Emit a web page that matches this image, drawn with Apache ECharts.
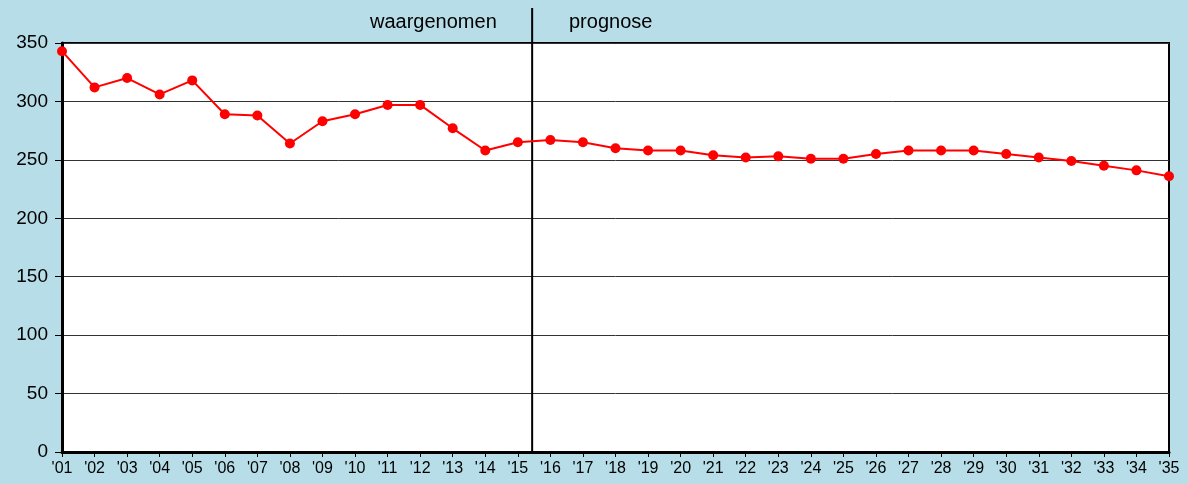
<!DOCTYPE html>
<html>
<head>
<meta charset="utf-8">
<script src="https://cdn.jsdelivr.net/npm/echarts@6/dist/echarts.min.js"></script>
<style>
    html, body { margin: 0; padding: 0; background: #b7dde8; }
    #chart { width: 1188px; height: 484px; }
</style>
</head>
<body>
<div id="chart"></div>
<script>
// jaren '01 t/m '35
const years = ["'01", "'02", "'03", "'04", "'05", "'06", "'07", "'08", "'09", "'10",
               "'11", "'12", "'13", "'14", "'15", "'16", "'17", "'18", "'19", "'20",
               "'21", "'22", "'23", "'24", "'25", "'26", "'27", "'28", "'29", "'30",
               "'31", "'32", "'33", "'34", "'35"];
// waargenomen ('01-'15) en prognose ('16-'35)
const values = [343, 312, 320, 306, 318, 289, 288, 264, 283, 289,
                297, 297, 277, 258, 265, 267, 265, 260, 258, 258,
                254, 252, 253, 251, 251, 255, 258, 258, 258, 255,
                252, 249, 245, 241, 236];
const yTicks = [0, 50, 100, 150, 200, 250, 300, 350];
// scheidingslijn tussen '15 en '16, loopt door tot boven de grafiek
const splitLine = [[14.44, 0], [14.44, 380]];
const periodLabels = ['waargenomen', 'prognose'];

const chart = echarts.init(document.getElementById('chart'));
const font = 'Liberation Sans, Arial, sans-serif';

chart.setOption({
    backgroundColor: '#b7dde8',
    animation: false,
    textStyle: { fontFamily: font },
    grid: {
        left: 62, right: 19, top: 43, bottom: 32,
        show: true,
        backgroundColor: '#ffffff',
        borderColor: '#000000',
        borderWidth: 2
    },
    graphic: [
        { type: 'text', x: 370, y: 22, style: { text: periodLabels[0], font: '20px ' + font, fill: '#000', verticalAlign: 'middle' } },
        { type: 'text', x: 569, y: 22, style: { text: periodLabels[1], font: '20px ' + font, fill: '#000', verticalAlign: 'middle' } }
    ],
    xAxis: [{
        type: 'category',
        data: years,
        boundaryGap: false,
        axisLine: { lineStyle: { color: '#000', width: 3 } },
        axisTick: { alignWithLabel: true, length: 5, lineStyle: { color: '#000' } },
        axisLabel: { color: '#000', fontSize: 16, margin: 9, interval: 0 },
        splitLine: { show: false }
    }, {
        type: 'value',
        min: 0,
        max: years.length - 1,
        show: false
    }],
    yAxis: {
        type: 'value',
        min: yTicks[0],
        max: yTicks[yTicks.length - 1],
        interval: 50,
        axisLine: { show: true, lineStyle: { color: '#000', width: 3 } },
        axisTick: { show: true, inside: false, length: 7, lineStyle: { color: '#000', width: 1 } },
        axisLabel: { color: '#000', fontSize: 19, margin: 14 },
        splitLine: { lineStyle: { color: '#333', width: 1 } }
    },
    series: [{
        type: 'line',
        data: values,
        symbol: 'circle',
        symbolSize: 10,
        z: 3,
        lineStyle: { width: 2, color: '#ff0000' },
        itemStyle: { color: '#ff0000' }
    }, {
        type: 'line',
        xAxisIndex: 1,
        data: splitLine,
        clip: false,
        silent: true,
        symbol: 'none',
        z: 2,
        lineStyle: { width: 2, color: '#000' }
    }]
});
</script>
</body>
</html>
